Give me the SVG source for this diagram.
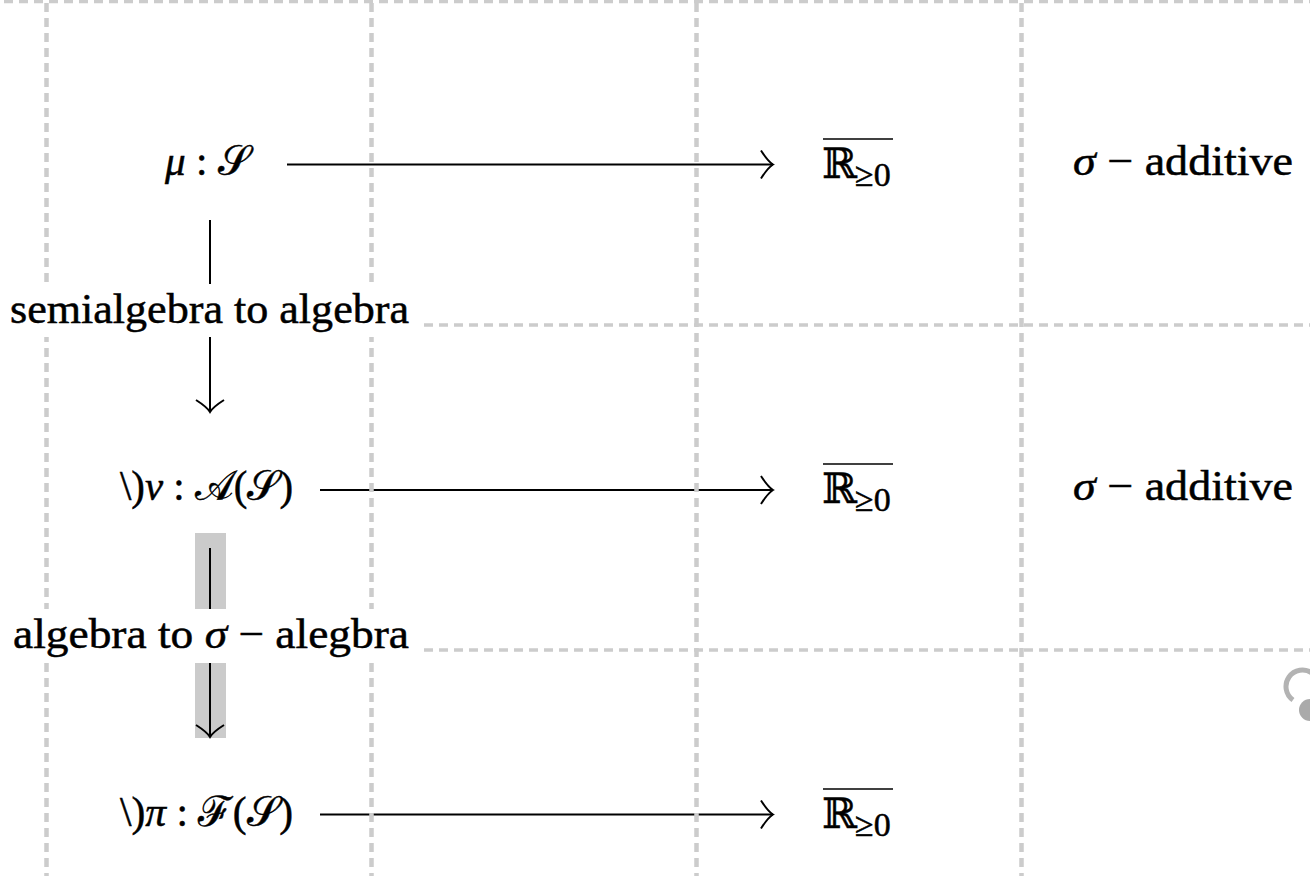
<svg xmlns="http://www.w3.org/2000/svg" width="1310" height="876" viewBox="0 0 1310 876">
<style>
.t{font-family:"Liberation Serif","DejaVu Serif","Noto Sans CJK SC",serif;font-size:42px;fill:#000;stroke:#000;stroke-width:0.5}
.i{font-style:italic}
.sub{font-size:34px}
.ar{fill:none;stroke:#000;stroke-width:2}
.gv{stroke:#cccccc;stroke-width:4.5;stroke-dasharray:9 6;fill:none}
.gh{stroke:#cccccc;stroke-width:3.5;stroke-dasharray:9 6;stroke-dashoffset:11;fill:none}
.ol{stroke:#000;stroke-width:1.4}
</style>
<defs>
<marker id="ah" markerUnits="userSpaceOnUse" markerWidth="30" markerHeight="30" viewBox="-15 -15 30 30" refX="0" refY="0" orient="auto">
<path d="M -12 -14 Q -5 -3 0 0 Q -5 3 -12 14" fill="none" stroke="#000" stroke-width="2"/>
</marker>
</defs>
<rect width="1310" height="876" fill="#fff"/>
<rect x="195" y="533" width="31" height="205" fill="#cbcbcb"/>
<g id="connectors">
<line class="ar" x1="287" y1="164.5" x2="773" y2="164.5" marker-end="url(#ah)"/>
<line class="ar" x1="320" y1="490" x2="773" y2="490" marker-end="url(#ah)"/>
<line class="ar" x1="320" y1="814.5" x2="773" y2="814.5" marker-end="url(#ah)"/>
<line class="ar" x1="210" y1="220" x2="210" y2="412" marker-end="url(#ah)"/>
<line class="ar" x1="210" y1="548" x2="210" y2="737" marker-end="url(#ah)"/>
</g>
<g id="grid">
<line class="gv" x1="46.5" y1="3" x2="46.5" y2="876"/>
<line class="gv" x1="371.5" y1="3" x2="371.5" y2="876"/>
<line class="gv" x1="696.5" y1="3" x2="696.5" y2="876"/>
<line class="gv" x1="1021.5" y1="3" x2="1021.5" y2="876"/>
<line class="gh" x1="0" y1="1.5" x2="1310" y2="1.5"/>
<line class="gh" x1="0" y1="325" x2="1310" y2="325"/>
<line class="gh" x1="0" y1="650" x2="1310" y2="650"/>
</g>
<g id="edge-labels">
<rect x="0" y="284" width="422" height="53" fill="#fff"/>
<text class="t" x="10" y="323" textLength="399" lengthAdjust="spacingAndGlyphs">semialgebra to algebra</text>
<rect x="0" y="609" width="422" height="54" fill="#fff"/>
<text class="t" x="13" y="648" textLength="396" lengthAdjust="spacingAndGlyphs">algebra to <tspan class="i">σ</tspan> − alegbra</text>
</g>
<g id="n-mu">
<text class="t" x="165" y="175" textLength="85" lengthAdjust="spacingAndGlyphs"><tspan class="i">μ</tspan> : 𝒮</text>
</g>
<g id="n-nu">
<text class="t" x="120" y="500" textLength="173" lengthAdjust="spacingAndGlyphs">\)<tspan class="i">ν</tspan> : 𝒜(𝒮)</text>
</g>
<g id="n-pi">
<text class="t" x="120" y="826" textLength="173" lengthAdjust="spacingAndGlyphs">\)<tspan class="i">π</tspan> : ℱ(𝒮)</text>
</g>
<g id="n-r1">
<line class="ol" x1="823" y1="139" x2="893" y2="139"/>
<text class="t" x="822" y="178">ℝ<tspan class="sub" x="855" y="186">≥0</tspan></text>
</g>
<g id="n-r2">
<line class="ol" x1="823" y1="464" x2="893" y2="464"/>
<text class="t" x="822" y="503">ℝ<tspan class="sub" x="855" y="511">≥0</tspan></text>
</g>
<g id="n-r3">
<line class="ol" x1="823" y1="789" x2="893" y2="789"/>
<text class="t" x="822" y="828">ℝ<tspan class="sub" x="855" y="836">≥0</tspan></text>
</g>
<g id="n-add1">
<text class="t" x="1073" y="175" textLength="220" lengthAdjust="spacingAndGlyphs"><tspan class="i">σ</tspan> − additive</text>
</g>
<g id="n-add2">
<text class="t" x="1073" y="500" textLength="220" lengthAdjust="spacingAndGlyphs"><tspan class="i">σ</tspan> − additive</text>
</g>
<g id="spinner">
<path d="M 1293 700 A 15 15 0 0 1 1312 673" fill="none" stroke="#b3b3b3" stroke-width="5"/>
<circle cx="1310" cy="710" r="11" fill="#aaaaaa"/>
</g>
</svg>
